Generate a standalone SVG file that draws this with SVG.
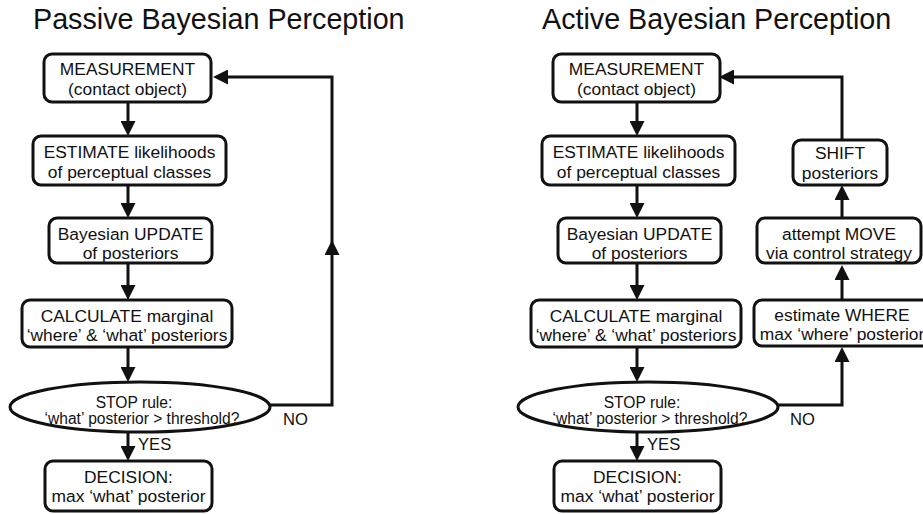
<svg xmlns="http://www.w3.org/2000/svg" width="923" height="514" viewBox="0 0 923 514">
<style>
  .box { fill: #fff; stroke: #111; stroke-width: 3; }
  .t { font-family: "Liberation Sans", Arial, sans-serif; font-size: 17.4px; fill: #111; text-anchor: middle; }
  .s { font-family: "Liberation Sans", Arial, sans-serif; font-size: 15.6px; fill: #111; text-anchor: middle; }
  .lbl { font-family: "Liberation Sans", Arial, sans-serif; font-size: 16.6px; fill: #111; }
  .title { font-family: "Liberation Sans", Arial, sans-serif; font-size: 28.7px; fill: #111; }
  .c { fill: none; stroke: #111; stroke-width: 3; marker-end: url(#ah); }
</style>
<defs>
  <marker id="ah" markerUnits="userSpaceOnUse" markerWidth="15" markerHeight="15" refX="0" refY="7.5" orient="auto">
    <path d="M0,0 L15,7.5 L0,15 z" fill="#111"/>
  </marker>
</defs>
<rect width="923" height="514" fill="#fff"/>

<text class="title" x="33" y="29">Passive Bayesian Perception</text>
<text class="title" x="542" y="29">Active Bayesian Perception</text>

<g id="connectors">
  <path class="c" d="M128 102 V121"/>
  <path class="c" d="M128 185 V203"/>
  <path class="c" d="M128 263 V285"/>
  <path class="c" d="M128 347 V367"/>
  <path class="c" d="M128 432 V446"/>
  <path class="c" d="M270 405 H332 V255"/>
  <path class="c" d="M332 255 V77 H228"/>

  <path class="c" d="M637 102 V121"/>
  <path class="c" d="M637 185 V203"/>
  <path class="c" d="M637 263 V285"/>
  <path class="c" d="M637 347 V367"/>
  <path class="c" d="M637 432 V446"/>
  <path class="c" d="M778 405 H842 V362"/>
  <path class="c" d="M842 300 V280"/>
  <path class="c" d="M842 218 V200"/>
  <path class="c" d="M842 140 V77 H734"/>
  <text class="lbl" x="138" y="450">YES</text>
  <text class="lbl" x="283" y="425">NO</text>
  <text class="lbl" x="647" y="450">YES</text>
  <text class="lbl" x="790" y="425">NO</text>
</g>

<!-- Passive -->
<g id="p-measure">
  <rect class="box" x="44" y="54" width="167" height="48" rx="8"/>
  <text class="t" x="127.5" y="75">MEASUREMENT</text>
  <text class="t" x="127.5" y="95">(contact object)</text>
</g>
<g id="p-estimate">
  <rect class="box" x="33" y="136" width="193" height="49" rx="8"/>
  <text class="t" x="129.5" y="158">ESTIMATE likelihoods</text>
  <text class="t" x="129.5" y="178">of perceptual classes</text>
</g>
<g id="p-update">
  <rect class="box" x="49" y="218" width="163" height="45" rx="8"/>
  <text class="t" x="130.5" y="240">Bayesian UPDATE</text>
  <text class="t" x="130.5" y="259">of posteriors</text>
</g>
<g id="p-calc">
  <rect class="box" x="22" y="300" width="210" height="47" rx="8"/>
  <text class="t" x="127" y="322">CALCULATE marginal</text>
  <text class="t" x="127" y="341">‘where’ &amp; ‘what’ posteriors</text>
</g>
<g id="p-stop">
  <ellipse class="box" cx="140" cy="407" rx="130" ry="25"/>
  <text class="s" x="134" y="408">STOP rule:</text>
  <text class="s" x="142" y="424">‘what’ posterior &gt; threshold?</text>
</g>
<g id="p-decision">
  <rect class="box" x="45" y="461" width="167" height="50" rx="8"/>
  <text class="t" x="128.5" y="483">DECISION:</text>
  <text class="t" x="128.5" y="502">max ‘what’ posterior</text>
</g>

<!-- Active -->
<g id="a-measure">
  <rect class="box" x="553" y="54" width="167" height="48" rx="8"/>
  <text class="t" x="636.5" y="75">MEASUREMENT</text>
  <text class="t" x="636.5" y="95">(contact object)</text>
</g>
<g id="a-estimate">
  <rect class="box" x="542" y="136" width="193" height="49" rx="8"/>
  <text class="t" x="638.5" y="158">ESTIMATE likelihoods</text>
  <text class="t" x="638.5" y="178">of perceptual classes</text>
</g>
<g id="a-update">
  <rect class="box" x="558" y="218" width="163" height="45" rx="8"/>
  <text class="t" x="639.5" y="240">Bayesian UPDATE</text>
  <text class="t" x="639.5" y="259">of posteriors</text>
</g>
<g id="a-calc">
  <rect class="box" x="531" y="300" width="210" height="47" rx="8"/>
  <text class="t" x="636" y="322">CALCULATE marginal</text>
  <text class="t" x="636" y="341">‘where’ &amp; ‘what’ posteriors</text>
</g>
<g id="a-stop">
  <ellipse class="box" cx="648" cy="407" rx="130" ry="25"/>
  <text class="s" x="642" y="408">STOP rule:</text>
  <text class="s" x="650" y="424">‘what’ posterior &gt; threshold?</text>
</g>
<g id="a-decision">
  <rect class="box" x="554" y="461" width="167" height="50" rx="8"/>
  <text class="t" x="637.5" y="483">DECISION:</text>
  <text class="t" x="637.5" y="502">max ‘what’ posterior</text>
</g>
<g id="a-shift">
  <rect class="box" x="793" y="140" width="94" height="45" rx="8"/>
  <text class="t" x="840" y="159">SHIFT</text>
  <text class="t" x="840" y="179">posteriors</text>
</g>
<g id="a-move">
  <rect class="box" x="757" y="218" width="164" height="45" rx="8"/>
  <text class="t" x="839" y="240">attempt MOVE</text>
  <text class="t" x="839" y="259">via control strategy</text>
</g>
<g id="a-where">
  <rect class="box" x="754" y="300" width="180" height="46" rx="8"/>
  <text class="t" x="842" y="321">estimate WHERE</text>
  <text class="t" x="842" y="340">max ‘where’ posterior</text>
</g>
</svg>
